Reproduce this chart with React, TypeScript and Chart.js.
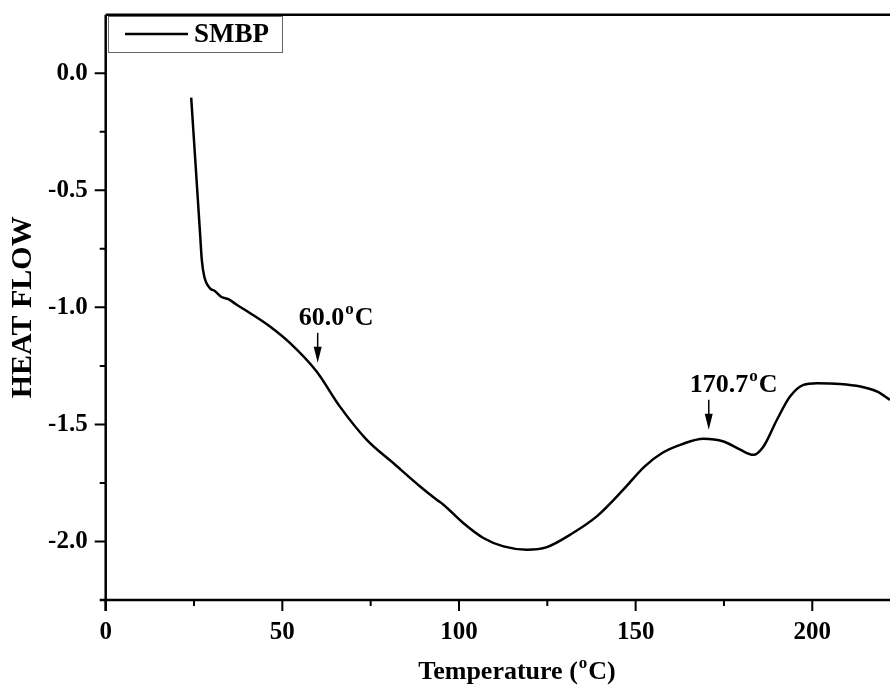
import React, { useEffect, useRef } from "react";
import { Chart, registerables } from "chart.js";

Chart.register(...registerables);

const seriesLabel = "SMBP";
const temperature = [
  24.2, 26.7, 27.2, 27.9, 29.5, 30.9, 32.8, 34.7, 37.1, 40.9, 46.5, 52.2, 59.7, 66.3, 73.9,
  81.4, 89.0, 93.7, 95.6, 101.2, 106.9, 112.6, 119.2, 124.9, 131.5, 139.0, 146.5,
  152.5, 157.5, 163.0, 169.2, 174.9, 179.6, 183.3, 186.2, 190.0, 193.7, 197.5, 201.3, 207.9,
  213.6, 218.4, 222.0,
];
const heatFlow = [
  -0.104, -0.682, -0.797, -0.868, -0.918, -0.93, -0.956, -0.965, -0.989, -1.025, -1.082,
  -1.153, -1.274, -1.424, -1.566, -1.665, -1.765, -1.822, -1.843, -1.921, -1.985,
  -2.021, -2.035, -2.024, -1.971, -1.893, -1.779, -1.68, -1.622, -1.585, -1.561, -1.573,
  -1.608, -1.63, -1.594, -1.48, -1.381, -1.331, -1.324, -1.327, -1.338, -1.36, -1.395,
];
const xMajorTicks = [0, 50, 100, 150, 200];
const xMinorTicks = [25, 75, 125, 175];
const yMajorTicks = [0, -0.5, -1.0, -1.5, -2.0];
const yMinorTicks = [-0.25, -0.75, -1.25, -1.75];
const annotationLabels = ["60.0", "170.7"];
const annotationTemps = [60.0, 170.7];
const annotationTipHeat = [-1.237, -1.523];
const xTitle = "Temperature (";
const xTitleEnd = "C)";
const yTitle = "HEAT FLOW";

const FONT = "'Liberation Serif', 'Times New Roman', serif";

const decorPlugin = {
  id: "decor",
  afterDatasetsDraw(chart: any) {
    const { ctx, chartArea } = chart;
    const xs = chart.scales.x;
    const ys = chart.scales.y;
    ctx.save();
    ctx.strokeStyle = "#000";
    ctx.fillStyle = "#000";
    ctx.lineCap = "butt";
    // axes
    ctx.lineWidth = 2.5;
    ctx.beginPath();
    ctx.moveTo(chartArea.left - 6, chartArea.bottom);
    ctx.lineTo(chartArea.right, chartArea.bottom);
    ctx.moveTo(chartArea.left, chartArea.top);
    ctx.lineTo(chartArea.left, chartArea.bottom + 11);
    ctx.moveTo(chartArea.left, chartArea.top);
    ctx.lineTo(chartArea.right, chartArea.top);
    ctx.stroke();
    // ticks
    ctx.lineWidth = 2;
    ctx.beginPath();
    xMajorTicks.forEach((v) => {
      const px = xs.getPixelForValue(v);
      ctx.moveTo(px, chartArea.bottom);
      ctx.lineTo(px, chartArea.bottom + 11);
    });
    xMinorTicks.forEach((v) => {
      const px = xs.getPixelForValue(v);
      ctx.moveTo(px, chartArea.bottom);
      ctx.lineTo(px, chartArea.bottom + 6);
    });
    yMajorTicks.forEach((v) => {
      const py = ys.getPixelForValue(v);
      ctx.moveTo(chartArea.left, py);
      ctx.lineTo(chartArea.left - 11, py);
    });
    yMinorTicks.forEach((v) => {
      const py = ys.getPixelForValue(v);
      ctx.moveTo(chartArea.left, py);
      ctx.lineTo(chartArea.left - 6, py);
    });
    ctx.stroke();

    // legend
    ctx.lineWidth = 1;
    ctx.strokeStyle = "#666";
    ctx.strokeRect(108.5, 16.5, 174, 36);
    ctx.strokeStyle = "#000";
    ctx.lineWidth = 2.5;
    ctx.beginPath();
    ctx.moveTo(125, 34);
    ctx.lineTo(188, 34);
    ctx.stroke();
    ctx.font = `bold 27px ${FONT}`;
    ctx.textBaseline = "middle";
    ctx.textAlign = "left";
    ctx.fillText(seriesLabel, 194, 35);

    // annotations
    ctx.textBaseline = "alphabetic";
    annotationTemps.forEach((t, i) => {
      const ax = xs.getPixelForValue(t);
      const tip = ys.getPixelForValue(annotationTipHeat[i]);
      ctx.lineWidth = 1.5;
      ctx.beginPath();
      ctx.moveTo(ax, tip - 30);
      ctx.lineTo(ax, tip - 12);
      ctx.stroke();
      ctx.beginPath();
      ctx.moveTo(ax - 4, tip - 16);
      ctx.lineTo(ax + 4, tip - 16);
      ctx.lineTo(ax, tip);
      ctx.closePath();
      ctx.fill();
      let x = ax - 19;
      const base = tip - 38;
      ctx.font = `bold 26px ${FONT}`;
      ctx.fillText(annotationLabels[i], x, base);
      x += ctx.measureText(annotationLabels[i]).width + 1;
      ctx.font = `bold 17px ${FONT}`;
      ctx.fillText("o", x, base - 11);
      x += ctx.measureText("o").width + 1;
      ctx.font = `bold 26px ${FONT}`;
      ctx.fillText("C", x, base);
    });

    // x title
    ctx.font = `bold 26px ${FONT}`;
    const w1 = ctx.measureText(xTitle).width;
    const w3 = ctx.measureText(xTitleEnd).width;
    ctx.font = `bold 17px ${FONT}`;
    const w2 = ctx.measureText("o").width;
    const total = w1 + w2 + w3 + 2;
    let tx = 517 - total / 2;
    const tb = 679;
    ctx.font = `bold 26px ${FONT}`;
    ctx.fillText(xTitle, tx, tb);
    tx += w1 + 1;
    ctx.font = `bold 17px ${FONT}`;
    ctx.fillText("o", tx, tb - 11);
    tx += w2 + 1;
    ctx.font = `bold 26px ${FONT}`;
    ctx.fillText(xTitleEnd, tx, tb);
    ctx.restore();
  },
};

export default function App() {
  const ref = useRef<HTMLCanvasElement | null>(null);
  useEffect(() => {
    if (!ref.current) return;
    const chart = new Chart(ref.current, {
      type: "line",
      data: {
        datasets: [
          {
            label: seriesLabel,
            data: temperature.map((t, i) => ({ x: t, y: heatFlow[i] })),
            borderColor: "#000",
            borderWidth: 2.5,
            pointRadius: 0,
            fill: false,
            cubicInterpolationMode: "monotone",
          },
        ],
      },
      options: {
        animation: false,
        responsive: false,
        devicePixelRatio: 1,
        layout: { padding: { left: 0, right: 0, top: 14.7, bottom: 0 } },
        plugins: { legend: { display: false }, tooltip: { enabled: false } },
        scales: {
          x: {
            type: "linear",
            min: 0,
            max: 222,
            afterBuildTicks: (s: any) => {
              s.ticks = xMajorTicks.map((v) => ({ value: v }));
            },
            afterFit: (s: any) => {
              s.height = 93;
              s.paddingLeft = 0;
              s.paddingRight = 0;
            },
            border: { display: false },
            grid: {
              display: true,
              drawOnChartArea: false,
              drawTicks: true,
              tickLength: 11,
              color: "rgba(0,0,0,0)",
              tickColor: "rgba(0,0,0,0)",
            },
            ticks: {
              autoSkip: false,
              maxRotation: 0,
              padding: 7,
              color: "#000",
              font: { family: FONT, size: 25, weight: "bold" },
              callback: (v: any) => String(v),
            },
          },
          y: {
            type: "linear",
            min: -2.25,
            max: 0.25,
            afterBuildTicks: (s: any) => {
              s.ticks = yMajorTicks.map((v) => ({ value: v }));
            },
            afterFit: (s: any) => {
              s.width = 105.7;
              s.paddingTop = 0;
              s.paddingBottom = 0;
            },
            border: { display: false },
            grid: {
              display: true,
              drawOnChartArea: false,
              drawTicks: true,
              tickLength: 11,
              color: "rgba(0,0,0,0)",
              tickColor: "rgba(0,0,0,0)",
            },
            ticks: {
              autoSkip: false,
              padding: 7,
              color: "#000",
              font: { family: FONT, size: 25, weight: "bold" },
              callback: (v: any) => Number(v).toFixed(1),
            },
            title: {
              display: true,
              text: yTitle,
              color: "#000",
              font: { family: FONT, size: 30, weight: "bold" },
              padding: { top: 5, bottom: 0 },
            },
          },
        },
      },
      plugins: [decorPlugin],
    });
    return () => chart.destroy();
  }, []);
  return (
    <div style={{ position: "fixed", left: 0, top: 0, width: 890, height: 693, background: "#fff" }}>
      <canvas ref={ref} width={890} height={693} style={{ width: 890, height: 693 }} />
    </div>
  );
}
